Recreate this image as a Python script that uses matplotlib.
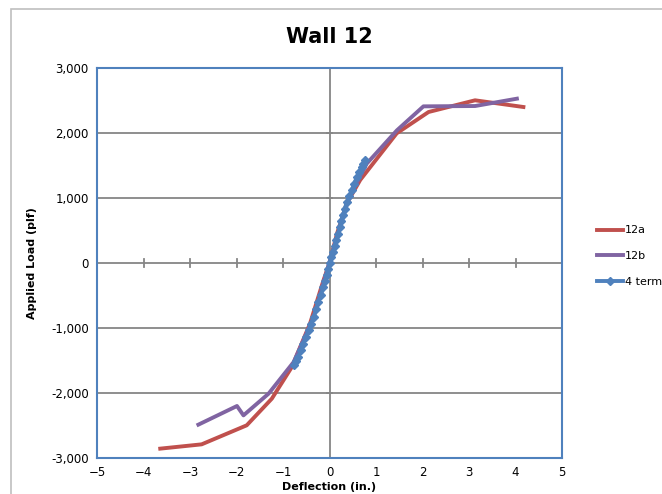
import matplotlib

matplotlib.use("Agg")

import matplotlib.pyplot as plt
from matplotlib.patches import Rectangle
from matplotlib.ticker import FuncFormatter

# 12a test curve
x_12a = [-3.64, -2.75, -1.78, -1.24, -0.81, -0.42, -0.13, 0.0, 0.16, 0.37, 0.66, 1.445, 2.13, 3.13, 4.17]
y_12a = [-2856, -2790, -2497, -2087, -1600, -933, -267, 0, 451, 913, 1277, 1995, 2323, 2503, 2400]

# 12b test curve
x_12b = [-2.82, -1.99, -1.85, -1.31, -0.77, -0.34, 0.01, 0.41, 0.80, 1.45, 2.02, 3.13, 4.03]
y_12b = [-2487, -2200, -2344, -2010, -1523, -831, 41, 990, 1528, 2041, 2410, 2415, 2528]

# 4 term fit
x_4t = [-0.77, -0.72, -0.67, -0.61, -0.56, -0.51, -0.45, -0.40, -0.34, -0.29, -0.24, -0.18,
        -0.13, -0.09, -0.06, -0.03, 0.0, 0.04, 0.07, 0.11, 0.14, 0.18, 0.22, 0.25, 0.29,
        0.33, 0.37, 0.43, 0.48, 0.53, 0.59, 0.64, 0.70, 0.73, 0.77]
y_4t = [-1574, -1510, -1446, -1343, -1241, -1138, -1036, -933, -831, -715, -600, -485,
        -369, -280, -190, -95, 0, 85, 169, 259, 349, 451, 554, 643, 733,
        835, 938, 1028, 1118, 1220, 1323, 1400, 1477, 1528, 1579]

series_labels = ["12a", "12b", "4 term"]

fig = plt.figure(figsize=(6.62, 4.94), dpi=100)
W, H = 662, 494

# chart area border
fig.patches.append(Rectangle((11 / W, -0.1), 1.1, 1 - 9 / H + 0.1, transform=fig.transFigure,
                             fill=False, edgecolor="#BFBFBF", linewidth=1.2))

ax = fig.add_axes([97 / W, 1 - 458 / H, (562 - 97) / W, (458 - 68) / H])

ax.set_xlim(-5, 5)
ax.set_ylim(-3000, 3000)
ax.set_xticks(range(-5, 6))
ax.set_yticks(range(-3000, 3001, 1000))
ax.yaxis.set_major_formatter(FuncFormatter(lambda v, p: f"{int(v):,}"))

for y in range(-2000, 3000, 1000):
    if y != 0:
        ax.axhline(y, color="#868686", linewidth=1.3, zorder=1)
ax.axvline(0, color="#868686", linewidth=1.3, zorder=1)
ax.axhline(0, color="#868686", linewidth=1.3, zorder=1)
# cross tick marks on the zero axes
for xv in range(-4, 6):
    ax.plot([xv, xv], [-60, 60], color="#868686", linewidth=1.3, zorder=1)
for yv in range(-3000, 3001, 1000):
    ax.plot([-0.05, 0.05], [yv, yv], color="#868686", linewidth=1.3, zorder=1)

ax.plot(x_12a, y_12a, color="#C0504D", linewidth=2.8, label=series_labels[0], zorder=3)
ax.plot(x_12b, y_12b, color="#8064A2", linewidth=2.8, label=series_labels[1], zorder=3)
ax.plot(x_4t, y_4t, color="#4F81BD", linewidth=2.8, marker="D", markersize=4.5,
        label=series_labels[2], zorder=4)

for s in ax.spines.values():
    s.set_color("#4F81BD")
    s.set_linewidth(1.5)
ax.tick_params(length=0, labelsize=8.5, pad=6)

ax.set_title("Wall 12", fontsize=15, fontweight="bold", pad=18)
ax.set_xlabel("Deflection (in.)", fontsize=8, fontweight="bold", labelpad=2)
ax.set_ylabel("Applied Load (plf)", fontsize=8, fontweight="bold", labelpad=10)

leg = fig.legend(loc="upper left", bbox_to_anchor=(593 / W, 1 - 221 / H), frameon=False,
                 fontsize=8, handlelength=2.3, labelspacing=1.4, handletextpad=0.2,
                 borderaxespad=0)

fig.savefig("out.png", dpi=100)
